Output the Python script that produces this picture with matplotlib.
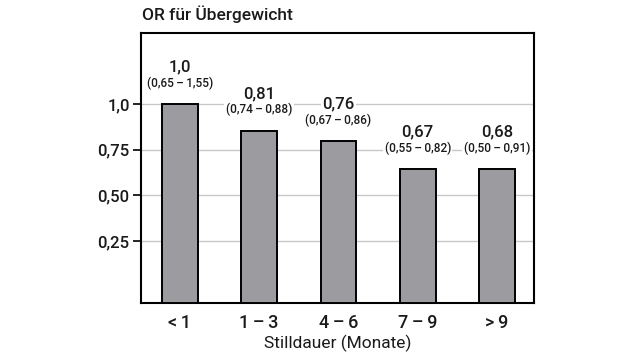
import matplotlib
matplotlib.use('Agg')
import matplotlib.pyplot as plt

# data
categories = ['<\u20091', '1\u2009\u2013\u20093', '4\u2009\u2013\u20096',
              '7\u2009\u2013\u20099', '>\u20099']
bar_heights = [1.0, 0.854, 0.796, 0.644, 0.644]   # heights as drawn
or_labels = ['1,0', '0,81', '0,76', '0,67', '0,68']
ci_labels = ['(0,65\u2009\u2013\u20091,55)', '(0,74\u2009\u2013\u20090,88)',
             '(0,67\u2009\u2013\u20090,86)', '(0,55\u2009\u2013\u20090,82)',
             '(0,50\u2009\u2013\u20090,91)']
yticks = [0.25, 0.50, 0.75, 1.0]
ytick_labels = ['0,25', '0,50', '0,75', '1,0']

plt.rcParams['font.family'] = ['Roboto', 'DejaVu Sans']
plt.rcParams['font.weight'] = 'medium'

ymin, ymax = -0.088, 1.387
txt = '#1a1a1a'

fig = plt.figure(figsize=(6.4, 3.6), dpi=100)
ax = fig.add_axes([0.220, 0.159, 0.615, 0.7485])

x = range(len(categories))
bars = ax.bar(x, [h - ymin for h in bar_heights], bottom=ymin, width=0.45,
              color='#9c9ca0', edgecolor='black', linewidth=1.4, zorder=3)

for xi, h, lab, ci in zip(x, bar_heights, or_labels, ci_labels):
    ax.annotate(lab, (xi, h), xytext=(0, 37), textcoords='offset pixels',
                ha='center', va='center', fontsize=12, color=txt,
                zorder=4, bbox=dict(facecolor='white', edgecolor='none', pad=1))
    ax.annotate(ci, (xi, h), xytext=(0, 21), textcoords='offset pixels',
                ha='center', va='center', fontsize=8.5, color=txt,
                zorder=4, bbox=dict(facecolor='white', edgecolor='none', pad=1))

ax.set_xlim(-0.49, 4.47)
ax.set_ylim(ymin, ymax)
ax.set_yticks(yticks)
ax.set_yticklabels(ytick_labels, fontsize=12, color=txt)
ax.set_xticks(list(x))
ax.set_xticklabels(categories, fontsize=13, color=txt)
ax.tick_params(axis='y', length=6, width=1.2, pad=2)
ax.tick_params(axis='x', length=0, pad=8)
ax.grid(axis='y', color='#c8c8c8', linewidth=1.0, zorder=0)
ax.set_axisbelow(True)
for sp in ax.spines.values():
    sp.set_linewidth(1.5)

ax.set_xlabel('Stilldauer (Monate)', fontsize=12.5, color=txt, labelpad=2)
fig.text(0.222, 0.961, 'OR f\u00fcr \u00dcbergewicht', fontsize=12.5,
         ha='left', va='center', color=txt)

fig.savefig('out.png', dpi=100)
